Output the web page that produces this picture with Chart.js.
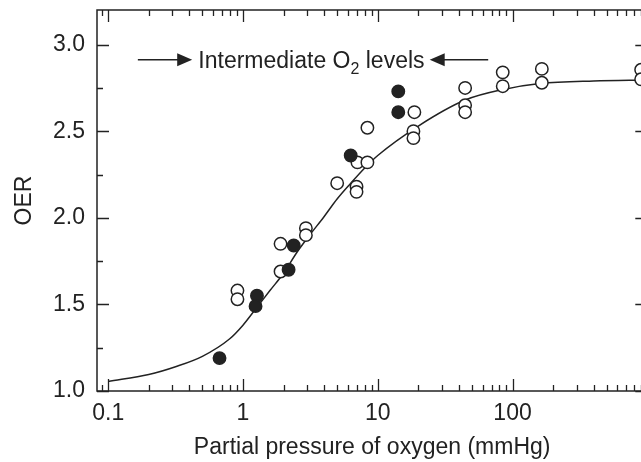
<!DOCTYPE html>
<html>
<head>
<meta charset="utf-8">
<script src="https://cdn.jsdelivr.net/npm/chart.js@4/dist/chart.umd.min.js"></script>
<style>
  html, body { margin: 0; padding: 0; background: #fff; overflow: hidden; }
  canvas { display: block; }
</style>
</head>
<body>
<canvas id="oer" width="655" height="462"></canvas>
<script>
// Oxygen enhancement ratio versus oxygen partial pressure
const openPressure = [0.91, 0.91, 1.90, 1.90, 2.93, 2.93, 5.0, 6.96, 6.96, 7.07, 8.38, 8.38,
                      18.7, 18.4, 18.4, 44.5, 44.5, 44.5, 84.6, 84.6, 165, 165, 900, 900];
const openOER      = [1.58, 1.53, 1.85, 1.69, 1.94, 1.90, 2.20, 2.18, 2.15, 2.32, 2.32, 2.52,
                      2.61, 2.50, 2.46, 2.75, 2.65, 2.61, 2.84, 2.76, 2.86, 2.78, 2.855, 2.80];

const filledPressure = [0.67, 1.27, 1.24, 2.38, 2.18, 6.3, 14.2, 14.2];
const filledOER      = [1.19, 1.55, 1.49, 1.84, 1.70, 2.36, 2.73, 2.61];

// fitted curve, sampled along its length
const curvePressure = [0.1, 0.2, 0.316, 0.5, 0.794, 1, 1.26, 1.585, 2, 2.51, 3.16, 3.98, 5.01, 6.31, 7.94, 10, 20, 44.5, 84, 160, 400, 1000];
const curveOER      = [1.055, 1.095, 1.14, 1.20, 1.30, 1.38, 1.48, 1.58, 1.68, 1.80, 1.905, 2.005, 2.11, 2.20, 2.285, 2.36, 2.53, 2.68, 2.74, 2.775, 2.79, 2.795];

const xTickValues = [0.1, 1, 10, 100];
const xTickLabels = ['0.1', '1', '10', '100'];
const yTickValues = [1.0, 1.5, 2.0, 2.5, 3.0];
const yTickLabels = ['1.0', '1.5', '2.0', '2.5', '3.0'];

// bracket marking the intermediate range (pressure, OER)
const bracketLeft  = { tail: 0.166, tip: 0.42 };
const bracketRight = { tail: 66, tip: 24.3 };
const bracketOER = 2.913;

const ink = '#222';
const fontFamily = '"Liberation Sans", Arial, Helvetica, sans-serif';
const fontSize = 23;

const toPoints = (xs, ys) => xs.map((v, i) => ({ x: v, y: ys[i] }));

const axisFrame = {
  id: 'axisFrame',
  beforeDatasetsDraw(chart) {
    const { ctx, chartArea: a, scales: { x, y } } = chart;
    ctx.save();
    ctx.strokeStyle = ink;
    ctx.lineWidth = 1.5;
    ctx.strokeRect(a.left, a.top, a.right - a.left, a.bottom - a.top);
    ctx.beginPath();
    for (let e = -2; e <= 3; e++) {
      for (let k = 1; k <= 9; k++) {
        const v = k * Math.pow(10, e);
        if (v < x.min || v > x.max * 1.0001) continue;
        const px = Math.round(x.getPixelForValue(v)) + 0.5;
        const len = k === 1 ? 12 : 6;
        ctx.moveTo(px, a.bottom); ctx.lineTo(px, a.bottom - len);
        ctx.moveTo(px, a.top); ctx.lineTo(px, a.top + len);
      }
    }
    for (let i = 0; i <= 8; i++) {
      const v = 1 + i * 0.25;
      const py = Math.round(y.getPixelForValue(v)) + 0.5;
      const len = i % 2 === 0 ? 12 : 6;
      ctx.moveTo(a.left, py); ctx.lineTo(a.left + len, py);
      ctx.moveTo(a.right, py); ctx.lineTo(a.right - len, py);
    }
    ctx.lineWidth = 1.3;
    ctx.stroke();
    ctx.restore();
  },
  afterDraw(chart) {
    const { ctx, scales: { x, y } } = chart;
    const py = y.getPixelForValue(bracketOER);
    const arrow = (tail, tip) => {
      const t = x.getPixelForValue(tail);
      const h = x.getPixelForValue(tip);
      const dir = Math.sign(h - t);
      ctx.beginPath();
      ctx.moveTo(t, py);
      ctx.lineTo(h - dir * 12, py);
      ctx.lineWidth = 1.5;
      ctx.strokeStyle = ink;
      ctx.stroke();
      ctx.beginPath();
      ctx.moveTo(h, py);
      ctx.lineTo(h - dir * 15, py - 6.5);
      ctx.lineTo(h - dir * 15, py + 6.5);
      ctx.closePath();
      ctx.fillStyle = ink;
      ctx.fill();
    };
    ctx.save();
    arrow(bracketLeft.tail, bracketLeft.tip);
    arrow(bracketRight.tail, bracketRight.tip);

    const left = x.getPixelForValue(bracketLeft.tip) + 6;
    const right = x.getPixelForValue(bracketRight.tip) - 5;
    const base = py + 8;
    ctx.fillStyle = ink;
    ctx.textBaseline = 'alphabetic';
    ctx.textAlign = 'left';
    const mainFont = fontSize + 'px ' + fontFamily;
    const subFont = '16px ' + fontFamily;
    ctx.font = mainFont;
    const w1 = ctx.measureText('Intermediate O').width;
    const w3 = ctx.measureText(' levels').width;
    ctx.font = subFont;
    const w2 = ctx.measureText('2').width;
    const total = w1 + w2 + w3;
    const start = left + ((right - left) - total) / 2;
    ctx.font = mainFont;
    ctx.fillText('Intermediate O', start, base);
    ctx.font = subFont;
    ctx.fillText('2', start + w1, base + 6);
    ctx.font = mainFont;
    ctx.fillText(' levels', start + w1 + w2, base);
    ctx.restore();
  }
};

new Chart(document.getElementById('oer'), {
  type: 'scatter',
  data: {
    datasets: [
      {
        label: 'Fit',
        data: toPoints(curvePressure, curveOER),
        showLine: true,
        pointRadius: 0,
        borderColor: ink,
        borderWidth: 1.5,
        cubicInterpolationMode: 'monotone',
        order: 3
      },
      {
        label: 'Open',
        data: toPoints(openPressure, openOER),
        pointRadius: 6.2,
        pointBackgroundColor: '#fff',
        pointBorderColor: ink,
        pointBorderWidth: 1.5,
        order: 2
      },
      {
        label: 'Filled',
        data: toPoints(filledPressure, filledOER),
        pointRadius: 6.2,
        pointBackgroundColor: ink,
        pointBorderColor: ink,
        pointBorderWidth: 1.5,
        order: 1
      }
    ]
  },
  options: {
    responsive: false,
    animation: false,
    devicePixelRatio: 1,
    layout: { padding: { top: 10, left: 0, right: 4, bottom: 0 } },
    plugins: { legend: { display: false }, tooltip: { enabled: false } },
    scales: {
      x: {
        type: 'logarithmic',
        min: 0.0826,
        max: 1000,
        grid: { display: false, drawTicks: false },
        border: { display: false },
        afterBuildTicks: (scale) => { scale.ticks = xTickValues.map(v => ({ value: v })); },
        afterFit: (scale) => {
          scale.height = 71;
          scale.paddingLeft = 0;
          scale.paddingRight = 0;
        },
        ticks: {
          color: ink,
          padding: 9,
          maxRotation: 0,
          autoSkip: false,
          font: { family: fontFamily, size: fontSize },
          callback: (value) => {
            const i = xTickValues.indexOf(value);
            return i >= 0 ? xTickLabels[i] : '';
          }
        },
        title: {
          display: true,
          text: 'Partial pressure of oxygen (mmHg)',
          color: ink,
          font: { family: fontFamily, size: fontSize },
          padding: { top: 0, bottom: 1 }
        }
      },
      y: {
        type: 'linear',
        min: 1.0,
        max: 3.2,
        grid: { display: false, drawTicks: false },
        border: { display: false },
        afterBuildTicks: (scale) => { scale.ticks = yTickValues.map(v => ({ value: v })); },
        afterFit: (scale) => {
          scale.width = 97;
          scale.paddingTop = 0;
          scale.paddingBottom = 0;
        },
        ticks: {
          color: ink,
          padding: 12,
          font: { family: fontFamily, size: fontSize },
          callback: (value) => {
            const i = yTickValues.findIndex(v => Math.abs(v - value) < 1e-9);
            return i >= 0 ? yTickLabels[i] : '';
          }
        },
        title: {
          display: true,
          text: 'OER',
          color: ink,
          font: { family: fontFamily, size: fontSize },
          padding: { top: 11, bottom: 0 }
        }
      }
    }
  },
  plugins: [axisFrame]
});
</script>
</body>
</html>
